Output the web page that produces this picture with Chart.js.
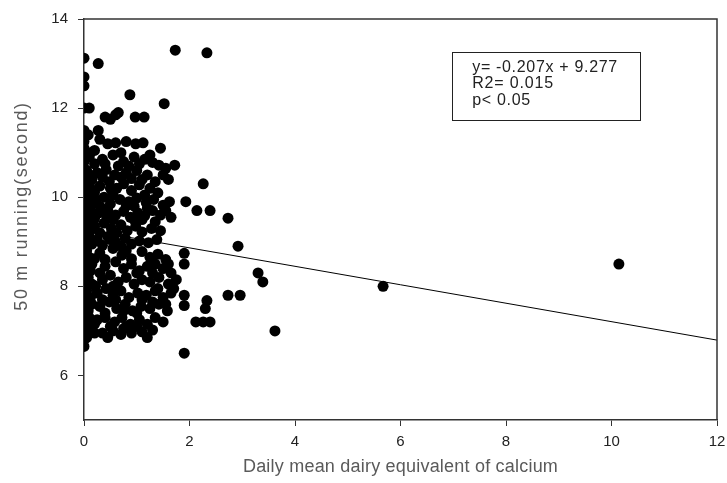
<!DOCTYPE html>
<html>
<head>
<meta charset="utf-8">
<script src="https://cdn.jsdelivr.net/npm/chart.js@4.4.1/dist/chart.umd.min.js"></script>
<style>
  html, body { margin: 0; padding: 0; background: #fff; }
  canvas { display: block; }
</style>
</head>
<body>
<canvas id="chart-calcio" width="727" height="483"></canvas>
<script>
// ---- datos ----
const xTicks = [0, 2, 4, 6, 8, 10, 12];
const yTicks = [6, 8, 10, 12, 14];
const xTitle = 'Daily mean dairy equivalent of calcium';
const yTitle = '50 m running(second)';

// regresión: y = -0.207x + 9.277
const fitSlope     = -0.207;
const fitIntercept = 9.277;
const fitLabels    = ['y= -0.207x + 9.277', 'R2= 0.015', 'p< 0.05'];

// puntos sobre el eje (x = 0)
const axisY = [6.65, 6.8, 6.95, 7.1, 7.25, 7.4, 7.55, 7.7, 7.85, 8.0, 8.15, 8.3, 8.5, 8.7, 8.85,
  9.0, 9.1, 9.2, 9.3, 9.45, 9.6, 9.75, 9.9, 10.05, 10.2, 10.35, 10.5, 10.65, 10.8, 10.95,
  11.1, 11.25, 11.4, 11.5, 12.0, 12.5, 12.7, 13.12];

// nube principal [calcio, segundos]
const cluster = [
  [0.45,11.2],[0.6,11.22],[0.8,11.25],[0.98,11.2],[1.12,11.22],[1.45,11.1],[0.2,11.05],[0.7,11.0],[1.25,10.95],[0.3,11.3],
  [0.1,10.9],[0.35,10.85],[0.55,10.95],[0.75,10.8],[0.95,10.9],[1.15,10.85],[1.3,10.78],[1.42,10.72],[1.55,10.65],[1.72,10.72],[0.2,10.75],[0.65,10.7],
  [0.05,10.6],[0.25,10.55],[0.42,10.62],[0.58,10.5],[0.8,10.55],[1.0,10.6],[1.2,10.5],[1.5,10.5],[1.6,10.4],[0.15,10.4],[0.9,10.42],[0.35,10.45],
  [0.1,10.3],[0.3,10.25],[0.48,10.35],[0.62,10.2],[0.75,10.3],[0.9,10.15],[1.05,10.28],[1.25,10.2],[1.4,10.1],[0.2,10.12],[0.55,10.05],[1.15,10.05],
  [0.05,10.0],[0.22,9.95],[0.38,10.0],[0.5,9.85],[0.68,9.95],[0.85,9.9],[1.0,9.98],[1.18,9.88],[1.32,9.95],[1.5,9.82],[1.62,9.9],[0.3,9.8],[0.95,9.8],
  [0.12,9.7],[0.28,9.65],[0.45,9.72],[0.6,9.6],[0.75,9.68],[0.88,9.55],[1.02,9.65],[1.15,9.58],[1.3,9.7],[1.45,9.6],[1.65,9.55],[0.2,9.52],[0.55,9.5],[1.1,9.5],
  [0.05,9.4],[0.2,9.35],[0.38,9.42],[0.52,9.3],[0.7,9.38],[0.82,9.25],[0.98,9.35],[1.1,9.22],[1.28,9.3],[1.45,9.25],[0.3,9.2],[0.62,9.2],
  [0.1,9.1],[0.25,9.05],[0.45,9.12],[0.6,9.0],[0.78,9.08],[0.9,8.95],[1.05,9.02],[1.22,8.98],[1.38,9.05],[0.35,8.92],[0.7,8.9],
  [0.05,8.8],[0.3,8.75],[0.55,8.85],[0.72,8.7],[1.1,8.78],[1.25,8.65],[1.4,8.72],[1.55,8.6],[0.2,8.62],[0.9,8.62],
  [0.15,8.5],[0.4,8.45],[0.6,8.55],[0.75,8.4],[0.9,8.5],[1.05,8.35],[1.2,8.45],[1.35,8.5],[1.5,8.4],[0.3,8.3],[1.65,8.3],
  [0.08,8.2],[0.35,8.15],[0.5,8.25],[0.65,8.1],[0.8,8.2],[0.95,8.05],[1.1,8.15],[1.25,8.1],[1.42,8.2],[1.6,8.05],[1.75,8.15],[0.22,8.0],
  [0.05,7.9],[0.25,7.85],[0.42,7.95],[0.55,7.8],[0.7,7.9],[0.85,7.75],[1.02,7.85],[1.18,7.8],[1.35,7.9],[1.5,7.75],[1.65,7.85],[0.6,7.7],[1.1,7.7],
  [0.15,7.6],[0.3,7.55],[0.48,7.65],[0.62,7.5],[0.78,7.6],[0.92,7.45],[1.08,7.55],[1.25,7.5],[1.42,7.6],[1.58,7.45],[0.4,7.4],[1.0,7.4],
  [0.1,7.3],[0.25,7.25],[0.4,7.3],[0.58,7.2],[0.72,7.3],[0.88,7.15],[1.05,7.25],[1.2,7.15],[1.35,7.3],[1.5,7.2],[0.15,7.1],[0.8,7.1],
  [0.1,7.0],[0.2,6.95],[0.35,6.95],[0.55,7.0],[0.7,6.92],[0.75,7.05],[1.1,6.98],[1.2,6.85],[1.3,7.02],
  [0.08,11.4],[0.12,11.0],[0.1,10.5],[0.12,10.2],[0.15,9.85],[0.1,9.55],[0.12,9.25],[0.15,8.95],[0.1,8.65],[0.12,8.35],
  [0.15,8.05],[0.12,7.75],[0.08,7.45],[0.2,7.15],[0.05,6.85],
  [0.4,10.75],[0.85,10.7],[1.05,10.75],[0.5,10.2],[0.7,10.45],[1.1,10.4],[1.35,10.35],[0.42,9.6],[0.8,9.8],[1.2,9.75],
  [0.5,9.05],[0.95,9.5],[1.35,9.45],[1.55,9.7],[0.4,8.6],[0.8,8.8],[1.3,8.3],[0.55,8.0],[1.0,8.3],[1.4,7.95],
  [0.35,7.7],[0.75,7.45],[1.3,7.65],[0.5,7.1],[1.0,7.1],[0.45,6.85],[0.9,6.95],[1.55,7.6],[1.7,7.95],[1.6,8.5]
];

// puntos sueltos
const outliers = [
  [0.27,13.0],[1.73,13.3],[2.33,13.24],[0.87,12.3],[1.52,12.1],[0.1,12.0],
  [0.4,11.8],[0.5,11.75],[0.6,11.85],[0.65,11.9],[0.97,11.8],[1.14,11.8],[0.27,11.5],
  [2.26,10.3],[1.93,9.9],[2.14,9.7],[2.39,9.7],[2.73,9.53],[2.92,8.9],
  [1.9,8.74],[1.9,8.5],[3.3,8.3],[3.39,8.1],[2.73,7.8],[2.96,7.8],
  [1.9,7.8],[1.9,7.57],[2.33,7.68],[2.3,7.5],[2.12,7.2],[2.26,7.2],[2.39,7.2],
  [3.62,7.0],[1.9,6.5],[5.67,8.0],[10.14,8.5]
];

const puntos = [
  ...axisY.map(y => ({ x: 0, y })),
  ...cluster.map(p => ({ x: p[0], y: p[1] })),
  ...outliers.map(p => ({ x: p[0], y: p[1] }))
];
const lineaAjuste = [0, 12].map(x => ({ x, y: fitIntercept + fitSlope * x }));

const fuente = '"Liberation Sans", Arial, sans-serif';

// texto con ancho dado (la fuente original es más ancha)
function textoAncho(ctx, txt, x, y, ancho) {
  ctx.letterSpacing = '0px';
  const w = ctx.measureText(txt).width;
  ctx.letterSpacing = ((ancho - w) / (txt.length - 1)).toFixed(2) + 'px';
  ctx.fillText(txt, x, y);
  ctx.letterSpacing = '0px';
}

// ---- plugin: marco, títulos y recuadro de la regresión ----
const marcoYTexto = {
  id: 'marcoYTexto',
  afterDraw(chart) {
    const { ctx, chartArea: a, scales: { x, y } } = chart;
    ctx.save();
    ctx.strokeStyle = '#333';
    ctx.lineWidth = 1.5;
    ctx.beginPath();
    ctx.moveTo(a.left, a.top);
    ctx.lineTo(a.right, a.top);
    ctx.lineTo(a.right, a.bottom);
    ctx.stroke();

    // títulos de ejes
    ctx.fillStyle = '#5a5a5a';
    ctx.font = '18px ' + fuente;
    ctx.textAlign = 'center';
    ctx.textBaseline = 'middle';
    textoAncho(ctx, xTitle, (a.left + a.right) / 2, 467, 315);
    ctx.save();
    ctx.translate(22, 206);
    ctx.rotate(-Math.PI / 2);
    textoAncho(ctx, yTitle, 0, 0, 208);
    ctx.restore();

    // recuadro
    const bx1 = x.getPixelForValue(6.98), bx2 = x.getPixelForValue(10.54);
    const by1 = y.getPixelForValue(13.26), by2 = y.getPixelForValue(11.73);
    ctx.strokeStyle = '#222';
    ctx.lineWidth = 1;
    ctx.strokeRect(Math.round(bx1) + 0.5, Math.round(by1) + 0.5, Math.round(bx2 - bx1), Math.round(by2 - by1));
    ctx.fillStyle = '#222';
    ctx.font = '16px ' + fuente;
    ctx.textAlign = 'left';
    ctx.textBaseline = 'alphabetic';
    const anchos = [145, 81, 58];
    fitLabels.forEach((t, i) => textoAncho(ctx, t, bx1 + 20, by1 + 20 + i * 16.5, anchos[i]));
    ctx.restore();
  }
};

new Chart(document.getElementById('chart-calcio'), {
  type: 'scatter',
  data: {
    datasets: [
      { data: puntos, backgroundColor: '#000', borderWidth: 0, pointRadius: 5.5, pointHoverRadius: 5.5, order: 2 },
      { type: 'line', data: lineaAjuste, borderColor: '#000', borderWidth: 1, pointRadius: 0, fill: false, order: 1 }
    ]
  },
  options: {
    responsive: false,
    animation: false,
    events: [],
    layout: { padding: { top: 19, right: 10, left: 0, bottom: 0 } },
    plugins: { legend: { display: false }, tooltip: { enabled: false } },
    scales: {
      x: {
        type: 'linear', min: 0, max: 12,
        afterBuildTicks: s => { s.ticks = xTicks.map(v => ({ value: v })); },
        afterFit: s => { s.height = 63; s.paddingRight = 0; },
        grid: { drawOnChartArea: false, drawTicks: true, tickLength: 6, color: '#333' },
        border: { display: true, color: '#333', width: 1.5 },
        ticks: { color: '#222', padding: 7, font: { family: fuente, size: 15 } }
      },
      y: {
        type: 'linear', min: 5, max: 14,
        afterBuildTicks: s => { s.ticks = yTicks.map(v => ({ value: v })); },
        afterFit: s => { s.width = 84; },
        grid: { drawOnChartArea: false, drawTicks: true, tickLength: 6, color: '#333' },
        border: { display: true, color: '#333', width: 1.5 },
        ticks: { color: '#222', padding: 10, font: { family: fuente, size: 15 } }
      }
    }
  },
  plugins: [marcoYTexto]
});
</script>
</body>
</html>
